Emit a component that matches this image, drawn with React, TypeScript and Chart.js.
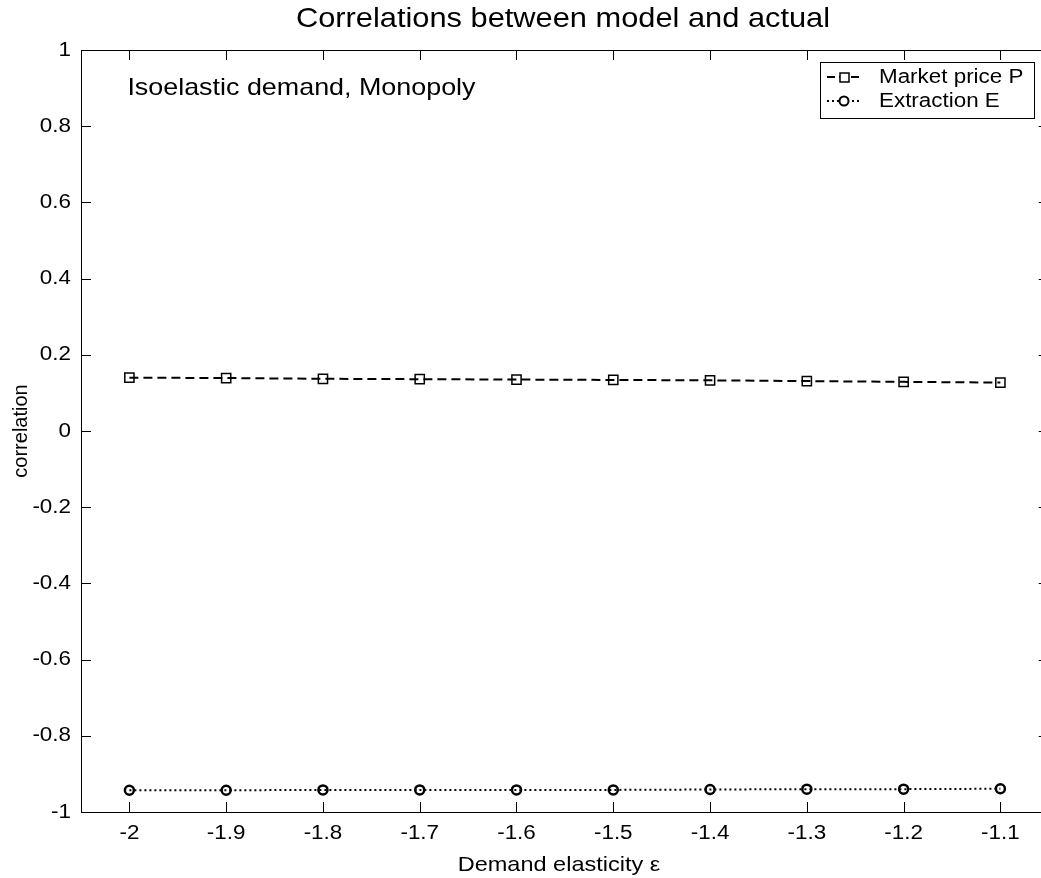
import React, { useEffect, useRef } from "react";
import { Chart, registerables } from "chart.js";

Chart.register(...registerables);

const elasticity = [-2, -1.9, -1.8, -1.7, -1.6, -1.5, -1.4, -1.3, -1.2, -1.1];
const priceCorr = [0.140, 0.139, 0.137, 0.136, 0.135, 0.134, 0.133, 0.131, 0.129, 0.127];
const extractionCorr = [-0.943, -0.943, -0.942, -0.942, -0.942, -0.942, -0.941, -0.940, -0.940, -0.939];
const xTicks = [-2, -1.9, -1.8, -1.7, -1.6, -1.5, -1.4, -1.3, -1.2, -1.1];
const yTicks = [-1, -0.8, -0.6, -0.4, -0.2, 0, 0.2, 0.4, 0.6, 0.8, 1];
const xTickLabels = ["-2", "-1.9", "-1.8", "-1.7", "-1.6", "-1.5", "-1.4", "-1.3", "-1.2", "-1.1"];
const yTickLabels = ["-1", "-0.8", "-0.6", "-0.4", "-0.2", "0", "0.2", "0.4", "0.6", "0.8", "1"];

const FONT = "'Liberation Sans', Arial, Helvetica, sans-serif";
const SX = 1.12;
const X_MIN = -2.05;
const X_BOX_MAX = -1.05;

function txt(ctx: any, s: string, x: number, y: number, size: number, align: string, sx = SX) {
  ctx.save();
  ctx.translate(x, y);
  ctx.scale(sx, 1);
  ctx.font = `${size}px ${FONT}`;
  ctx.textAlign = align;
  ctx.textBaseline = "middle";
  ctx.fillStyle = "#000";
  ctx.fillText(s, 0, 0);
  ctx.restore();
}

const boxPlugin = {
  id: "matlabBox",
  afterDraw(chart: any) {
    const ctx = chart.ctx;
    const { left, top, bottom } = chart.chartArea;
    const xs = chart.scales.x;
    const ys = chart.scales.y;
    const right = xs.getPixelForValue(X_BOX_MAX);
    ctx.save();
    ctx.strokeStyle = "#000";
    ctx.lineWidth = 1;
    ctx.strokeRect(left + 0.5, top + 0.5, right - left, bottom - top);
    const tl = 10;
    ctx.beginPath();
    for (const v of xTicks) {
      const px = Math.round(xs.getPixelForValue(v)) + 0.5;
      ctx.moveTo(px, bottom);
      ctx.lineTo(px, bottom - tl);
      ctx.moveTo(px, top);
      ctx.lineTo(px, top + tl);
    }
    for (const v of yTicks) {
      const py = Math.round(ys.getPixelForValue(v)) + 0.5;
      ctx.moveTo(left, py);
      ctx.lineTo(left + tl, py);
      ctx.moveTo(right, py);
      ctx.lineTo(right - tl, py);
    }
    ctx.stroke();

    // tick labels
    xTicks.forEach((v, i) => txt(ctx, xTickLabels[i], xs.getPixelForValue(v), 833, 20, "center"));
    yTicks.forEach((v, i) => txt(ctx, yTickLabels[i], 71, ys.getPixelForValue(v), 20, "right"));

    // title
    txt(ctx, "Correlations between model and actual", 563, 19, 27.5, "center");

    // axis titles
    txt(ctx, "Demand elasticity \u03b5", 559, 865, 21, "center");
    ctx.save();
    ctx.translate(21, (top + bottom) / 2);
    ctx.rotate(-Math.PI / 2);
    txt(ctx, "correlation", 0, 0, 20, "center", 1);
    ctx.restore();

    // annotation
    txt(ctx, "Isoelastic demand, Monopoly", xs.getPixelForValue(-2) - 2, ys.getPixelForValue(0.9), 24, "left");

    // legend
    const lx = 820, ly = 62, lw = 214, lh = 56;
    ctx.fillStyle = "#fff";
    ctx.fillRect(lx, ly, lw, lh);
    ctx.strokeStyle = "#000";
    ctx.lineWidth = 1;
    ctx.strokeRect(lx + 0.5, ly + 0.5, lw, lh);
    const r1 = 77, r2 = 101;
    ctx.lineWidth = 2;
    ctx.setLineDash([8, 4]);
    ctx.beginPath();
    ctx.moveTo(827, r1);
    ctx.lineTo(860, r1);
    ctx.stroke();
    ctx.setLineDash([]);
    ctx.lineWidth = 1.5;
    ctx.fillStyle = "#fff";
    ctx.fillRect(840, r1 - 4, 9, 9);
    ctx.strokeRect(840, r1 - 4, 9, 9);
    ctx.lineWidth = 2;
    ctx.setLineDash([2, 3]);
    ctx.beginPath();
    ctx.moveTo(827, r2);
    ctx.lineTo(860, r2);
    ctx.stroke();
    ctx.setLineDash([]);
    ctx.beginPath();
    ctx.arc(844, r2, 4.5, 0, Math.PI * 2);
    ctx.fillStyle = "#fff";
    ctx.fill();
    ctx.stroke();
    txt(ctx, "Market price P", 879, r1, 20, "left");
    txt(ctx, "Extraction E", 879, r2, 20, "left");
    ctx.restore();
  },
};

export default function App() {
  const ref = useRef<HTMLCanvasElement>(null);
  useEffect(() => {
    document.body.style.margin = "0";
    const canvas = ref.current!;
    const chart = new Chart(canvas, {
      type: "line",
      data: {
        datasets: [
          {
            label: "Market price P",
            data: elasticity.map((x, i) => ({ x, y: priceCorr[i] })),
            borderColor: "#000",
            borderWidth: 2,
            borderDash: [9, 5],
            pointStyle: "rect",
            pointRadius: 6.5,
            pointBorderWidth: 1.5,
            pointBorderColor: "#000",
            pointBackgroundColor: "rgba(255,255,255,0)",
            fill: false,
          },
          {
            label: "Extraction E",
            data: elasticity.map((x, i) => ({ x, y: extractionCorr[i] })),
            borderColor: "#000",
            borderWidth: 2,
            borderDash: [2, 3],
            pointStyle: "circle",
            pointRadius: 4.5,
            pointBorderWidth: 2.5,
            pointBorderColor: "#000",
            pointBackgroundColor: "rgba(255,255,255,0)",
            fill: false,
          },
        ],
      },
      options: {
        animation: false,
        responsive: false,
        clip: false,
        layout: { padding: { top: 50, left: 0, right: 0, bottom: 0 } },
        plugins: { legend: { display: false }, title: { display: false }, tooltip: { enabled: false } },
        scales: {
          x: {
            type: "linear",
            min: X_MIN,
            max: -1.0663,
            afterBuildTicks: (s: any) => {
              s.ticks = xTicks.map((v) => ({ value: v }));
            },
            afterFit: (s: any) => {
              s.height = 66;
            },
            grid: { display: false },
            border: { display: false },
            ticks: { display: false },
          },
          y: {
            min: -1,
            max: 1,
            afterBuildTicks: (s: any) => {
              s.ticks = yTicks.map((v) => ({ value: v }));
            },
            afterFit: (s: any) => {
              s.width = 81;
            },
            grid: { display: false },
            border: { display: false },
            ticks: { display: false },
          },
        },
      },
      plugins: [boxPlugin],
    } as any);
    return () => chart.destroy();
  }, []);
  return <canvas ref={ref} width={1041} height={878} style={{ display: "block" }} />;
}
